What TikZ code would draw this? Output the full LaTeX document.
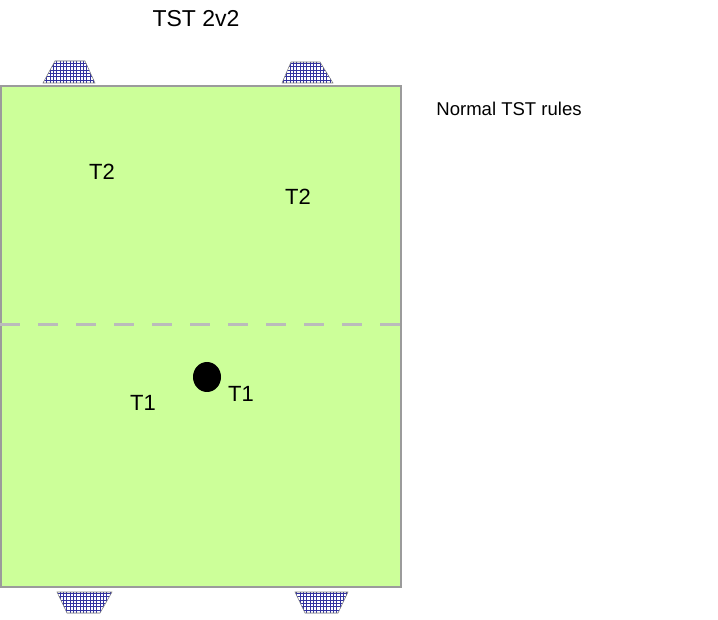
\documentclass[tikz,border=0pt]{standalone}
\usepackage{fontspec}
\setmainfont{Liberation Sans}
\definecolor{pitchgreen}{RGB}{204,255,153}
\definecolor{pitchline}{RGB}{155,155,155}
\definecolor{midline}{RGB}{187,187,187}
\definecolor{netblue}{RGB}{50,50,160}
\begin{document}
\begin{tikzpicture}[x=0.75pt,y=-0.75pt]
  \useasboundingbox (0,0) rectangle (718,620);

  % 场地
  \draw[fill=pitchgreen, draw=pitchline, line width=1.1pt] (1,86) rectangle (401,587);

  % 中线
  \draw[midline, line width=2.25pt, dash pattern=on 15pt off 13.5pt] (0,325) -- (404,325);

  % 球门
  \foreach \pts in {{(43,83) -- (55,61) -- (85,61) -- (95,83)},
                    {(282,83) -- (291,62) -- (320,62) -- (333,83)},
                    {(57,592) -- (112,592) -- (100,613) -- (67,613)},
                    {(295,592) -- (348,592) -- (338,613) -- (305,613)}}
  {
    \begin{scope}
      \clip \pts -- cycle;
      \fill[white] (0,0) rectangle (718,620);
      \draw[netblue, line width=0.5pt, step=2.5pt] (0,0) grid (718,620);
    \end{scope}
    \draw[gray, line width=0.4pt] \pts -- cycle;
  }

  % 球
  \fill[black] (207,377) ellipse [x radius=10.5pt, y radius=11.25pt];

  % 文字
  \node (title) at (196,19) {\fontsize{17.25}{20}\selectfont TST 2v2};
  \node (rules) at (509,109) {\fontsize{13.9}{16}\selectfont Normal TST rules};
  \node (t2a) at (102,172) {\fontsize{16.5}{19}\selectfont T2};
  \node (t2b) at (298,197) {\fontsize{16.5}{19}\selectfont T2};
  \node (t1a) at (143,403) {\fontsize{16.5}{19}\selectfont T1};
  \node (t1b) at (241,394) {\fontsize{16.5}{19}\selectfont T1};
\end{tikzpicture}
\end{document}
